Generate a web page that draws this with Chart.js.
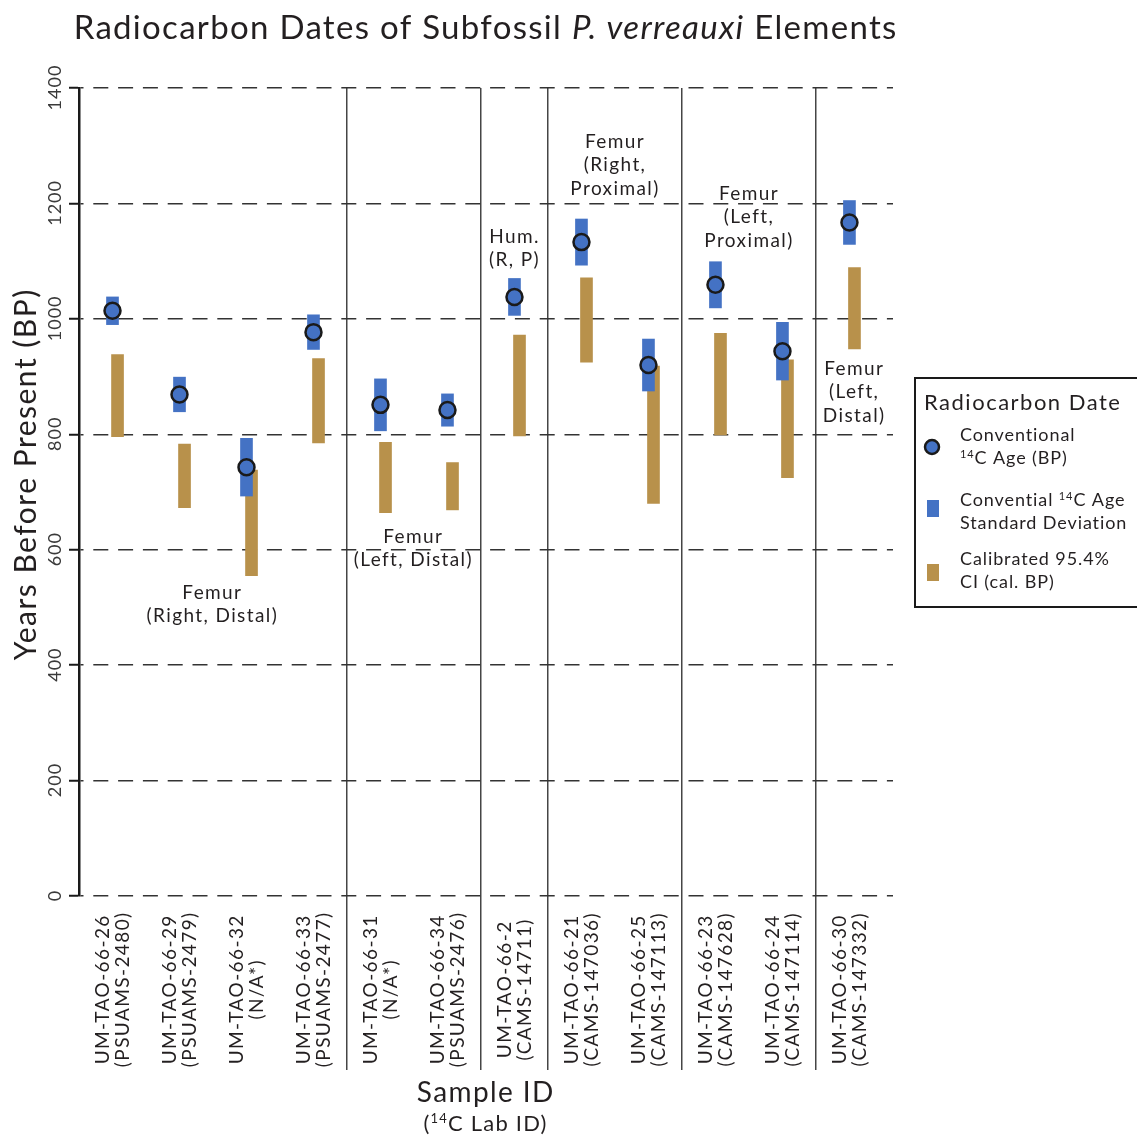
<!DOCTYPE html>
<html>
<head>
<meta charset="utf-8">
<title>Radiocarbon Dates of Subfossil P. verreauxi Elements</title>
<script src="https://cdn.jsdelivr.net/npm/chart.js@4.4.1/dist/chart.umd.min.js"></script>
<style>
  html, body { margin: 0; padding: 0; background: #ffffff; }
  #wrap { position: relative; width: 1137px; height: 1136px; }
</style>
</head>
<body>
<div id="wrap"><canvas id="chart"></canvas></div>
<script>
// Samples, in plotting order
const sampleIds = ['UM-TAO-66-26', 'UM-TAO-66-29', 'UM-TAO-66-32', 'UM-TAO-66-33',
                   'UM-TAO-66-31', 'UM-TAO-66-34', 'UM-TAO-66-2', 'UM-TAO-66-21',
                   'UM-TAO-66-25', 'UM-TAO-66-23', 'UM-TAO-66-24', 'UM-TAO-66-30'];
const labIds = ['(PSUAMS-2480)', '(PSUAMS-2479)', '(N/A*)', '(PSUAMS-2477)',
                '(N/A*)', '(PSUAMS-2476)', '(CAMS-14711)', '(CAMS-147036)',
                '(CAMS-147113)', '(CAMS-147628)', '(CAMS-147114)', '(CAMS-147332)'];
// How many consecutive samples belong to each skeletal element
const groupSizes = [4, 2, 1, 2, 2, 1];

// Conventional 14C age (BP) and its standard deviation
const age14C   = [1014, 869, 743, 977, 851, 842, 1038, 1133, 920, 1059, 944, 1167];
const age14CSd = [24, 30, 50, 30, 45, 28, 32, 40, 45, 40, 50, 38];

// Calibrated 95.4% interval (cal. BP)
const calLow  = [796, 673, 555, 785, 664, 669, 797, 925, 680, 799, 725, 948];
const calHigh = [938, 783, 738, 931, 786, 751, 972, 1071, 918, 975, 929, 1089];

const yTicks = [0, 200, 400, 600, 800, 1000, 1200, 1400];

// Element notes: text lines and where they sit (category, years BP of first line)
const elementNotes = [
  { lines: ['Femur', '(Right, Distal)'], at: [2.48, 527] },
  { lines: ['Femur', '(Left, Distal)'], at: [5.48, 624] },
  { lines: ['Hum.', '(R, P)'], at: [6.99, 1144] },
  { lines: ['Femur', '(Right,', 'Proximal)'], at: [8.49, 1308] },
  { lines: ['Femur', '(Left,', 'Proximal)'], at: [10.49, 1218] },
  { lines: ['Femur', '(Left,', 'Distal)'], at: [12.06, 915] }
];

const BLUE = '#4472c4';
const GOLD = '#b8914b';
const INK = '#231f20';
const FONT = 'Lato, "Noto Sans", sans-serif';

// boundaries between element groups, on the category axis
const groupBreaks = [];
groupSizes.reduce((n, s) => { const e = n + s; if (e < sampleIds.length) groupBreaks.push(e + 0.5); return e; }, 0);

const X_MIN = 0.5, X_MAX = 12.65;
const CAL_SHIFT = 0.075; // calibrated bars sit just right of the sample centre

// ---- small rich-text helper: ^{..} = superscript, *..* = italic ----
function parseRich(text) {
  return text.split(/(\^\{[^}]*\}|\*[^*]+\*)/).filter(Boolean).map(p => {
    if (p.startsWith('^{')) return { t: p.slice(2, -1), sup: true };
    if (p.length > 2 && p[0] === '*' && p[p.length - 1] === '*') return { t: p.slice(1, -1), it: true };
    return { t: p };
  });
}
function drawRich(ctx, text, x, y, size, align, spacing) {
  const segs = parseRich(text);
  const ls = spacing || 0;
  const fontOf = s => (s.it ? 'italic ' : '') + (s.sup ? Math.round(size * 0.6) : size) + 'px ' + FONT;
  ctx.letterSpacing = ls + 'px';
  let total = 0;
  segs.forEach(s => { ctx.font = fontOf(s); s.w = ctx.measureText(s.t).width; total += s.w; });
  total -= ls;
  let cx = align === 'center' ? x - total / 2 : (align === 'right' ? x - total : x);
  ctx.textAlign = 'left';
  ctx.textBaseline = 'alphabetic';
  const base = y + size * 0.36;
  segs.forEach(s => {
    ctx.font = fontOf(s);
    ctx.fillText(s.t, cx, s.sup ? base - size * 0.36 : base);
    cx += s.w;
  });
  ctx.letterSpacing = '0px';
}
function drawRotated(ctx, text, x, y, size, spacing) {
  ctx.save();
  ctx.translate(x, y);
  ctx.rotate(-Math.PI / 2);
  drawRich(ctx, text, 0, 0, size, 'center', spacing);
  ctx.restore();
}

const textPlugin = {
  id: 'textLayer',
  afterDraw(chart) {
    const { ctx, scales } = chart;
    const xs = scales.x, ys = scales.y;
    ctx.save();
    ctx.fillStyle = INK;

    // title
    drawRich(ctx, 'Radiocarbon Dates of Subfossil *P. verreauxi* Elements', 485, 27, 33, 'center', 1.3);

    // y tick labels (rotated)
    ctx.fillStyle = '#3a3a3a';
    yTicks.forEach(v => drawRotated(ctx, String(v), 55, ys.getPixelForValue(v), 18, 1));

    // y axis title
    ctx.fillStyle = INK;
    drawRotated(ctx, 'Years Before Present (BP)', 25, 475, 30, 1.5);

    // category labels (rotated, two centred lines)
    sampleIds.forEach((id, i) => {
      const px = xs.getPixelForValue(i + 1);
      drawRotated(ctx, id, px - 10, 990, 19, 1.4);
      drawRotated(ctx, labIds[i], px + 10, 990, 19, 1.4);
    });

    // x axis title
    drawRich(ctx, 'Sample ID', 485, 1092, 28, 'center', 1.4);
    drawRich(ctx, '(^{14}C Lab ID)', 485, 1123, 22, 'center', 1.2);

    // element notes
    elementNotes.forEach(n => {
      const px = xs.getPixelForValue(n.at[0]);
      const py = ys.getPixelForValue(n.at[1]);
      n.lines.forEach((t, k) => drawRich(ctx, t, px, py + k * 23.5, 19, 'center', 1.4));
    });

    // legend
    const lx = 915, ly = 378;
    ctx.lineWidth = 2;
    ctx.strokeStyle = '#1a1a1a';
    ctx.strokeRect(lx, ly, 260, 229);
    drawRich(ctx, 'Radiocarbon Date', 924, 402, 22, 'left', 1.5);

    ctx.beginPath();
    ctx.arc(932, 447, 7, 0, Math.PI * 2);
    ctx.fillStyle = BLUE; ctx.fill();
    ctx.lineWidth = 2.5; ctx.strokeStyle = '#1a1a1a'; ctx.stroke();
    ctx.fillStyle = BLUE; ctx.fillRect(927, 500, 12, 17);
    ctx.fillStyle = GOLD; ctx.fillRect(927, 564, 12, 17);

    ctx.fillStyle = INK;
    const entries = [
      ['Conventional', '^{14}C Age (BP)', 435],
      ['Convential ^{14}C Age', 'Standard Deviation', 500],
      ['Calibrated 95.4%', 'CI (cal. BP)', 559]
    ];
    entries.forEach(([a, b, y0]) => {
      drawRich(ctx, a, 960, y0, 18, 'left', 0.9);
      drawRich(ctx, b, 960, y0 + 23, 18, 'left', 0.9);
    });
    ctx.restore();
  }
};

const zeroSize = s => { s.width = 0; s.height = 0; };

new Chart(document.getElementById('chart'), {
  type: 'bar',
  data: {
    datasets: [
      {
        type: 'scatter',
        label: 'Conventional 14C Age (BP)',
        data: age14C.map((v, i) => ({ x: i + 1, y: v })),
        xAxisID: 'x', yAxisID: 'y',
        pointRadius: 8, pointHoverRadius: 8,
        borderWidth: 2.5, borderColor: '#1a1a1a', backgroundColor: BLUE,
        order: 1
      },
      {
        type: 'bar',
        label: 'Convential 14C Age Standard Deviation',
        data: age14C.map((v, i) => ({ x: i + 1, y: [v - age14CSd[i], v + age14CSd[i]] })),
        xAxisID: 'x', yAxisID: 'y',
        backgroundColor: BLUE, borderWidth: 0,
        barThickness: 12, grouped: false,
        order: 2
      },
      {
        type: 'bar',
        label: 'Calibrated 95.4% CI (cal. BP)',
        data: calLow.map((v, i) => ({ x: i + 1, y: [v, calHigh[i]] })),
        xAxisID: 'xc', yAxisID: 'y',
        backgroundColor: GOLD, borderWidth: 0,
        barThickness: 12, grouped: false,
        order: 3
      }
    ]
  },
  options: {
    responsive: true,
    maintainAspectRatio: false,
    animation: false,
    layout: { padding: { left: 79, top: 88, right: 244, bottom: 240 } },
    plugins: { legend: { display: false }, tooltip: { enabled: false }, title: { display: false } },
    scales: {
      x: { type: 'linear', min: X_MIN, max: X_MAX, offset: false, grid: { offset: false }, display: false, afterFit: zeroSize },
      xc: { type: 'linear', min: X_MIN - CAL_SHIFT, max: X_MAX - CAL_SHIFT, offset: false, grid: { offset: false }, display: false, afterFit: zeroSize },
      // element group separators, running down through the label area
      xg: {
        type: 'linear', position: 'bottom', min: X_MIN, max: X_MAX, offset: false,
        afterBuildTicks: s => { s.ticks = groupBreaks.map(v => ({ value: v })); },
        ticks: { display: false },
        grid: { offset: false, color: '#454545', lineWidth: 1.5, drawTicks: true, tickLength: 174, tickColor: '#454545', tickWidth: 1.5 },
        border: { display: false },
        afterFit: zeroSize
      },
      y: {
        type: 'linear', position: 'left', min: 0, max: 1400,
        afterBuildTicks: s => { s.ticks = yTicks.map(v => ({ value: v })); },
        ticks: { display: false },
        grid: { color: '#333333', lineWidth: 1.5, drawTicks: true, tickLength: 10, tickColor: '#1a1a1a', tickWidth: 2, tickBorderDash: [] },
        border: { display: true, color: '#1a1a1a', width: 2.5, dash: [15, 9.8], dashOffset: 12 },
        afterFit: zeroSize
      }
    }
  },
  plugins: [textPlugin]
});
</script>
</body>
</html>
